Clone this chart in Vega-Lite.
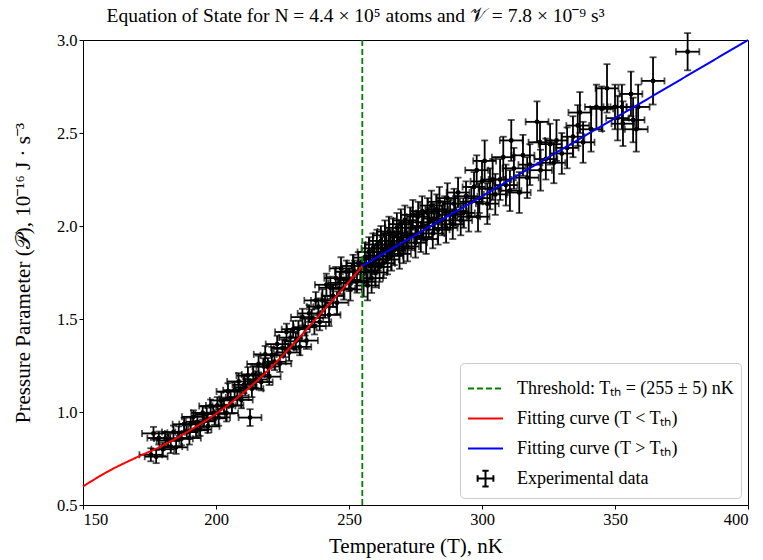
{
 "$schema": "https://vega.github.io/schema/vega-lite/v6.json",
 "width": 665, "height": 465,
 "autosize": {"type": "none"},
 "padding": {"left": 83, "top": 40, "right": 15, "bottom": 55},
 "background": "white",
 "config": {
  "font": "Liberation Serif",
  "view": {"stroke": "black", "strokeWidth": 1},
  "axis": {"domain": false, "grid": false, "tickColor": "black", "tickSize": 4, "labelFont": "Liberation Serif", "labelFontSize": 16.5, "labelColor": "black", "titleFont": "Liberation Serif", "titleFontSize": 21, "titleFontWeight": "normal", "titleColor": "black"},
  "legend": {
   "orient": "bottom-right", "offset": 7, "fillColor": "white", "strokeColor": "#cccccc", "cornerRadius": 4, "padding": 7, "rowPadding": 2,
   "labelFont": "Liberation Serif", "labelFontSize": 18, "labelColor": "black", "labelLimit": 400, "labelOffset": 13,
   "symbolSize": 1225, "symbolStrokeWidth": 2
  }
 },
 "title": {"text": "Equation of State for N = 4.4 × 10⁵ atoms and 𝒱 = 7.8 × 10⁻⁹ s³", "font": "Liberation Serif", "fontSize": 19.5, "fontWeight": "normal", "color": "black", "offset": 6, "dx": -60},
 "datasets": {
  "obs": [
   {"T":175.5,"P":0.77,"e":0.035,"d":4.3},{"T":176.5,"P":0.885,"e":0.035,"d":4.3},{"T":177.5,"P":0.76,"e":0.035,"d":4.3},{"T":178.5,"P":0.86,"e":0.035,"d":4.3},{"T":180,"P":0.80,"e":0.035,"d":4.3},{"T":181,"P":0.858,"e":0.035,"d":4.3},{"T":182,"P":0.846,"e":0.035,"d":4.3},{"T":183,"P":0.814,"e":0.035,"d":4.3},{"T":184,"P":0.892,"e":0.035,"d":4.3},{"T":185,"P":0.81,"e":0.035,"d":4.3},{"T":186,"P":0.888,"e":0.035,"d":4.3},{"T":187,"P":0.856,"e":0.035,"d":4.3},{"T":188,"P":0.934,"e":0.035,"d":4.3},{"T":189,"P":0.892,"e":0.035,"d":4.3},{"T":190,"P":0.86,"e":0.035,"d":4.3},{"T":190.5,"P":0.935,"e":0.035,"d":4.3},{"T":191.5,"P":0.974,"e":0.035,"d":4.3},{"T":192.5,"P":0.902,"e":0.035,"d":4.3},{"T":193,"P":0.947,"e":0.035,"d":4.3},{"T":194,"P":0.906,"e":0.035,"d":4.3},{"T":195,"P":0.995,"e":0.035,"d":4.3},{"T":195.5,"P":0.95,"e":0.035,"d":4.3},{"T":196.5,"P":0.988,"e":0.035,"d":4.3},{"T":197,"P":0.923,"e":0.035,"d":4.3},{"T":198,"P":1.032,"e":0.035,"d":4.3},{"T":199,"P":0.991,"e":0.035,"d":4.3},{"T":199.5,"P":0.966,"e":0.035,"d":4.3},
   {"T":200.5,"P":1.035,"e":0.045,"d":4.3},{"T":201,"P":0.971,"e":0.045,"d":4.3},{"T":202,"P":1.062,"e":0.045,"d":4.3},{"T":203,"P":1.033,"e":0.045,"d":4.3},{"T":204,"P":0.994,"e":0.045,"d":4.3},{"T":204.5,"P":1.11,"e":0.045,"d":4.3},{"T":205.5,"P":1.07,"e":0.045,"d":4.3},{"T":206,"P":1.036,"e":0.045,"d":4.3},{"T":207,"P":1.117,"e":0.045,"d":4.3},{"T":208,"P":1.078,"e":0.045,"d":4.3},{"T":208.5,"P":1.164,"e":0.045,"d":4.3},{"T":209.5,"P":1.065,"e":0.045,"d":4.3},{"T":210.5,"P":1.146,"e":0.045,"d":4.3},{"T":211,"P":1.133,"e":0.045,"d":4.3},{"T":212,"P":1.196,"e":0.045,"d":4.3},{"T":212.8,"P":0.97,"e":0.045,"d":4.3},{"T":213.5,"P":1.125,"e":0.045,"d":4.3},{"T":214,"P":1.202,"e":0.045,"d":4.3},{"T":215,"P":1.175,"e":0.045,"d":4.3},{"T":216,"P":1.258,"e":0.045,"d":4.3},{"T":217,"P":1.161,"e":0.045,"d":4.3},{"T":218,"P":1.244,"e":0.045,"d":4.3},{"T":218.5,"P":1.31,"e":0.045,"d":4.3},{"T":219.5,"P":1.245,"e":0.045,"d":4.3},{"T":220,"P":1.19,"e":0.045,"d":4.3},{"T":221,"P":1.305,"e":0.045,"d":4.3},{"T":222,"P":1.27,"e":0.045,"d":4.3},{"T":223,"P":1.365,"e":0.045,"d":4.3},{"T":224,"P":1.26,"e":0.045,"d":4.3},{"T":225,"P":1.345,"e":0.045,"d":4.3},{"T":226,"P":1.34,"e":0.045,"d":4.3},{"T":226.5,"P":1.43,"e":0.045,"d":4.3},{"T":227.5,"P":1.32,"e":0.045,"d":4.3},{"T":228,"P":1.40,"e":0.045,"d":4.3},{"T":229,"P":1.445,"e":0.045,"d":4.3},{"T":230,"P":1.38,"e":0.045,"d":4.3},{"T":231,"P":1.446,"e":0.045,"d":4.3},{"T":231.5,"P":1.35,"e":0.045,"d":4.3},{"T":232.5,"P":1.51,"e":0.045,"d":4.3},{"T":233.5,"P":1.456,"e":0.045,"d":4.3},{"T":234,"P":1.384,"e":0.045,"d":4.3},{"T":235,"P":1.53,"e":0.045,"d":4.3},{"T":236,"P":1.506,"e":0.045,"d":4.3},{"T":237,"P":1.462,"e":0.045,"d":4.3},{"T":237.5,"P":1.60,"e":0.045,"d":4.3},{"T":238.5,"P":1.566,"e":0.045,"d":4.3},{"T":239,"P":1.484,"e":0.045,"d":4.3},
   {"T":240,"P":1.60,"e":0.06,"d":4.3},{"T":241,"P":1.566,"e":0.06,"d":4.3},{"T":241.5,"P":1.684,"e":0.06,"d":4.3},{"T":242.5,"P":1.522,"e":0.06,"d":4.3},{"T":243,"P":1.668,"e":0.06,"d":4.3},{"T":244,"P":1.624,"e":0.06,"d":4.3},{"T":245,"P":1.72,"e":0.06,"d":4.3},{"T":245.5,"P":1.588,"e":0.06,"d":4.3},{"T":246.5,"P":1.694,"e":0.06,"d":4.3},{"T":247,"P":1.772,"e":0.06,"d":4.3},{"T":248,"P":1.664,"e":0.06,"d":4.3},{"T":249,"P":1.754,"e":0.06,"d":4.3},{"T":250,"P":1.71,"e":0.06,"d":4.3},{"T":250.5,"P":1.659,"e":0.06,"d":4.3},{"T":251.5,"P":1.785,"e":0.06,"d":4.3},{"T":252,"P":1.754,"e":0.06,"d":4.3},{"T":253,"P":1.701,"e":0.06,"d":4.3},{"T":253.5,"P":1.80,"e":0.06,"d":4.3},{"T":254.5,"P":1.757,"e":0.06,"d":4.3},
   {"T":255.5,"P":1.70,"e":0.08,"d":4.3},{"T":256,"P":1.83,"e":0.08,"d":4.3},{"T":256.5,"P":1.76,"e":0.08,"d":4.3},{"T":257,"P":1.68,"e":0.08,"d":4.3},{"T":257.5,"P":1.86,"e":0.08,"d":4.3},{"T":258,"P":1.79,"e":0.08,"d":4.3},{"T":258.5,"P":1.72,"e":0.08,"d":4.3},{"T":259,"P":1.88,"e":0.08,"d":4.3},{"T":259.5,"P":1.82,"e":0.08,"d":4.3},{"T":260,"P":1.75,"e":0.08,"d":4.3},{"T":260.5,"P":1.90,"e":0.08,"d":4.3},{"T":261,"P":1.84,"e":0.08,"d":4.3},{"T":261.5,"P":1.78,"e":0.08,"d":4.3},{"T":262,"P":1.92,"e":0.08,"d":4.3},{"T":262.5,"P":1.86,"e":0.08,"d":4.3},{"T":263,"P":1.80,"e":0.08,"d":4.3},{"T":263.5,"P":1.95,"e":0.08,"d":4.3},{"T":264,"P":1.88,"e":0.08,"d":4.3},{"T":264.5,"P":1.82,"e":0.08,"d":4.3},{"T":265,"P":1.97,"e":0.08,"d":4.3},{"T":265.5,"P":1.90,"e":0.08,"d":4.3},{"T":266,"P":1.84,"e":0.08,"d":4.3},{"T":266.5,"P":1.96,"e":0.08,"d":4.3},{"T":267,"P":1.87,"e":0.08,"d":4.3},{"T":268,"P":1.99,"e":0.08,"d":4.3},{"T":268.5,"P":1.92,"e":0.08,"d":4.3},{"T":269,"P":1.85,"e":0.08,"d":4.3},{"T":269.5,"P":2.01,"e":0.08,"d":4.3},{"T":270,"P":1.94,"e":0.08,"d":4.3},{"T":270.5,"P":1.88,"e":0.08,"d":4.3},{"T":271,"P":2.03,"e":0.08,"d":4.3},{"T":271.5,"P":1.96,"e":0.08,"d":4.3},{"T":272,"P":1.89,"e":0.08,"d":4.3},{"T":273,"P":2.02,"e":0.08,"d":4.3},{"T":273.5,"P":1.95,"e":0.08,"d":4.3},{"T":274,"P":2.06,"e":0.08,"d":4.3},{"T":275,"P":1.91,"e":0.08,"d":4.3},{"T":275.5,"P":1.99,"e":0.08,"d":4.3},{"T":276,"P":2.05,"e":0.08,"d":4.3},{"T":277,"P":1.94,"e":0.08,"d":4.3},{"T":277.5,"P":2.08,"e":0.08,"d":4.3},{"T":278,"P":2.00,"e":0.08,"d":4.3},{"T":279,"P":1.93,"e":0.08,"d":4.3},{"T":279.5,"P":2.07,"e":0.08,"d":4.3},{"T":280,"P":2.02,"e":0.08,"d":4.3},{"T":281,"P":2.11,"e":0.08,"d":4.3},{"T":281.5,"P":1.96,"e":0.08,"d":4.3},{"T":282,"P":2.04,"e":0.08,"d":4.3},{"T":283,"P":2.09,"e":0.08,"d":4.3},{"T":283.5,"P":1.98,"e":0.08,"d":4.3},{"T":284,"P":2.13,"e":0.08,"d":4.3},{"T":285,"P":2.03,"e":0.08,"d":4.3},{"T":286,"P":2.08,"e":0.08,"d":4.3},{"T":286.5,"P":1.99,"e":0.08,"d":4.3},{"T":287,"P":2.15,"e":0.08,"d":4.3},{"T":288,"P":2.06,"e":0.08,"d":4.3},{"T":289,"P":2.01,"e":0.08,"d":4.3},{"T":289.5,"P":2.12,"e":0.08,"d":4.3},{"T":290,"P":2.08,"e":0.08,"d":4.3},{"T":291,"P":2.18,"e":0.08,"d":4.3},{"T":292,"P":2.03,"e":0.08,"d":4.3},{"T":293,"P":2.07,"e":0.08,"d":4.3},{"T":294,"P":2.16,"e":0.08,"d":4.3},{"T":295,"P":2.05,"e":0.08,"d":4.3},{"T":296,"P":2.13,"e":0.08,"d":4.3},{"T":297,"P":2.21,"e":0.08,"d":4.3},{"T":298,"P":2.30,"e":0.08,"d":4.3},{"T":298.5,"P":2.05,"e":0.08,"d":4.3},{"T":299,"P":2.15,"e":0.08,"d":4.3},
   {"T":300,"P":2.24,"e":0.11,"d":4.3},{"T":301,"P":2.35,"e":0.11,"d":4.3},{"T":302,"P":2.12,"e":0.11,"d":4.3},{"T":303,"P":2.20,"e":0.11,"d":4.3},{"T":304,"P":2.25,"e":0.11,"d":4.3},{"T":305,"P":2.17,"e":0.11,"d":4.3},{"T":306.8,"P":2.25,"e":0.11,"d":4.3},{"T":308,"P":2.37,"e":0.11,"d":4.3},{"T":309,"P":2.22,"e":0.11,"d":4.3},{"T":310.5,"P":2.19,"e":0.11,"d":4.3},{"T":311,"P":2.46,"e":0.11,"d":4.3},{"T":312,"P":2.31,"e":0.11,"d":4.3},{"T":314,"P":2.18,"e":0.11,"d":4.3},{"T":315.4,"P":2.38,"e":0.11,"d":4.3},{"T":317,"P":2.26,"e":0.11,"d":4.3},{"T":318,"P":2.33,"e":0.11,"d":4.3},{"T":320.7,"P":2.56,"e":0.11,"d":4.3},{"T":321.8,"P":2.45,"e":0.11,"d":4.3},{"T":322,"P":2.30,"e":0.11,"d":4.3},{"T":324,"P":2.36,"e":0.11,"d":4.3},{"T":325.6,"P":2.44,"e":0.11,"d":4.3},{"T":327,"P":2.34,"e":0.11,"d":4.3},{"T":328,"P":2.46,"e":0.11,"d":4.3},{"T":330,"P":2.39,"e":0.11,"d":4.3},{"T":332,"P":2.42,"e":0.11,"d":4.3},{"T":334.2,"P":2.48,"e":0.11,"d":4.3},{"T":336,"P":2.54,"e":0.11,"d":4.3},{"T":336.8,"P":2.61,"e":0.11,"d":4.3},{"T":338,"P":2.45,"e":0.11,"d":4.3},
   {"T":341,"P":2.52,"e":0.12,"d":4.3},{"T":343,"P":2.64,"e":0.12,"d":4.3},{"T":345,"P":2.63,"e":0.12,"d":4.3},{"T":347,"P":2.74,"e":0.13,"d":4.3},{"T":350,"P":2.64,"e":0.12,"d":4.3},{"T":351,"P":2.58,"e":0.12,"d":4.3},{"T":352.6,"P":2.64,"e":0.12,"d":4.3},{"T":353,"P":2.55,"e":0.12,"d":4.3},{"T":356,"P":2.71,"e":0.12,"d":4.3},{"T":356.8,"P":2.57,"e":0.12,"d":4.3},{"T":358,"P":2.52,"e":0.12,"d":4.3},{"T":358.7,"P":2.64,"e":0.12,"d":4.3},{"T":364.3,"P":2.78,"e":0.127,"d":4.3},{"T":377.3,"P":2.937,"e":0.1,"d":4.4}
  ],
  "red": [
   {"T":150,"P":0.60},{"T":160,"P":0.685},{"T":170,"P":0.755},{"T":180,"P":0.82},{"T":190,"P":0.90},{"T":200,"P":0.99},{"T":210,"P":1.10},{"T":220,"P":1.23},{"T":230,"P":1.38},{"T":240,"P":1.54},{"T":250,"P":1.70},{"T":255,"P":1.785}
  ],
  "blue": [
   {"T":255,"P":1.785},{"T":300,"P":2.16},{"T":350,"P":2.58},{"T":400,"P":3.0}
  ]
 },
 "layer": [
  {
   "data": {"name": "obs"},
   "mark": {"type": "errorbar", "ticks": true, "size": 7, "thickness": 1.8, "color": "black"},
   "encoding": {
    "x": {"field": "T", "type": "quantitative", "title": "Temperature (T), nK", "scale": {"domain": [150, 400], "nice": false, "zero": false}, "axis": {"values": [150, 200, 250, 300, 350, 400], "titlePadding": 8}},
    "y": {"field": "P", "type": "quantitative", "title": "Pressure Parameter (𝒫), 10⁻¹⁶ J · s⁻³", "scale": {"domain": [0.5, 3.0], "nice": false, "zero": false}, "axis": {"values": [0.5, 1.0, 1.5, 2.0, 2.5, 3.0], "format": ".1f", "titlePadding": 23}},
    "yError": {"field": "e"}
   }
  },
  {
   "data": {"name": "obs"},
   "mark": {"type": "errorbar", "ticks": true, "size": 7, "thickness": 1.8, "color": "black"},
   "encoding": {
    "x": {"field": "T", "type": "quantitative", "title": "Temperature (T), nK"},
    "y": {"field": "P", "type": "quantitative", "title": "Pressure Parameter (𝒫), 10⁻¹⁶ J · s⁻³"},
    "xError": {"field": "d"}
   }
  },
  {
   "data": {"name": "obs"},
   "mark": {"type": "point", "filled": false, "size": 22, "strokeWidth": 2.6, "opacity": 1},
   "encoding": {
    "x": {"field": "T", "type": "quantitative", "title": "Temperature (T), nK"},
    "y": {"field": "P", "type": "quantitative", "title": "Pressure Parameter (𝒫), 10⁻¹⁶ J · s⁻³"},
    "color": {"datum": "Experimental data", "type": "nominal",
     "scale": {"domain": ["Threshold: Tₜₕ = (255 ± 5) nK", "Fitting curve (T < Tₜₕ)", "Fitting curve (T > Tₜₕ)", "Experimental data"], "range": ["#008000", "#ff0000", "#0000ff", "#000000"]},
     "legend": {"title": null}},
    "shape": {"datum": "Experimental data", "type": "nominal",
     "scale": {"domain": ["Threshold: Tₜₕ = (255 ± 5) nK", "Fitting curve (T < Tₜₕ)", "Fitting curve (T > Tₜₕ)", "Experimental data"], "range": ["stroke", "stroke", "stroke", "M-0.45,0H0.45M0,-0.45V0.45M-0.45,-0.18V0.18M0.45,-0.18V0.18M-0.18,-0.45H0.18M-0.18,0.45H0.18"]},
     "legend": {"title": null}},
    "strokeDash": {"datum": "Experimental data", "type": "nominal",
     "scale": {"domain": ["Threshold: Tₜₕ = (255 ± 5) nK", "Fitting curve (T < Tₜₕ)", "Fitting curve (T > Tₜₕ)", "Experimental data"], "range": [[6, 3], [1, 0], [1, 0], [1, 0]]},
     "legend": {"title": null}}
   }
  },
  {
   "data": {"name": "obs"},
   "mark": {"type": "circle", "size": 24, "color": "black", "opacity": 1},
   "encoding": {
    "x": {"field": "T", "type": "quantitative", "title": "Temperature (T), nK"},
    "y": {"field": "P", "type": "quantitative", "title": "Pressure Parameter (𝒫), 10⁻¹⁶ J · s⁻³"}
   }
  },
  {
   "data": {"values": [{"T": 255}]},
   "mark": {"type": "rule", "strokeWidth": 1.8},
   "encoding": {
    "x": {"field": "T", "type": "quantitative", "title": "Temperature (T), nK"},
    "color": {"datum": "Threshold: Tₜₕ = (255 ± 5) nK", "type": "nominal", "legend": {"title": null}},
    "strokeDash": {"datum": "Threshold: Tₜₕ = (255 ± 5) nK", "type": "nominal", "legend": {"title": null}}
   }
  },
  {
   "data": {"name": "red"},
   "mark": {"type": "line", "strokeWidth": 2, "interpolate": "monotone"},
   "encoding": {
    "x": {"field": "T", "type": "quantitative", "title": "Temperature (T), nK"},
    "y": {"field": "P", "type": "quantitative", "title": "Pressure Parameter (𝒫), 10⁻¹⁶ J · s⁻³"},
    "color": {"datum": "Fitting curve (T < Tₜₕ)", "type": "nominal", "legend": {"title": null}},
    "strokeDash": {"datum": "Fitting curve (T < Tₜₕ)", "type": "nominal", "legend": {"title": null}}
   }
  },
  {
   "data": {"name": "blue"},
   "mark": {"type": "line", "strokeWidth": 2},
   "encoding": {
    "x": {"field": "T", "type": "quantitative", "title": "Temperature (T), nK"},
    "y": {"field": "P", "type": "quantitative", "title": "Pressure Parameter (𝒫), 10⁻¹⁶ J · s⁻³"},
    "color": {"datum": "Fitting curve (T > Tₜₕ)", "type": "nominal", "legend": {"title": null}},
    "strokeDash": {"datum": "Fitting curve (T > Tₜₕ)", "type": "nominal", "legend": {"title": null}}
   }
  }
 ]
}
